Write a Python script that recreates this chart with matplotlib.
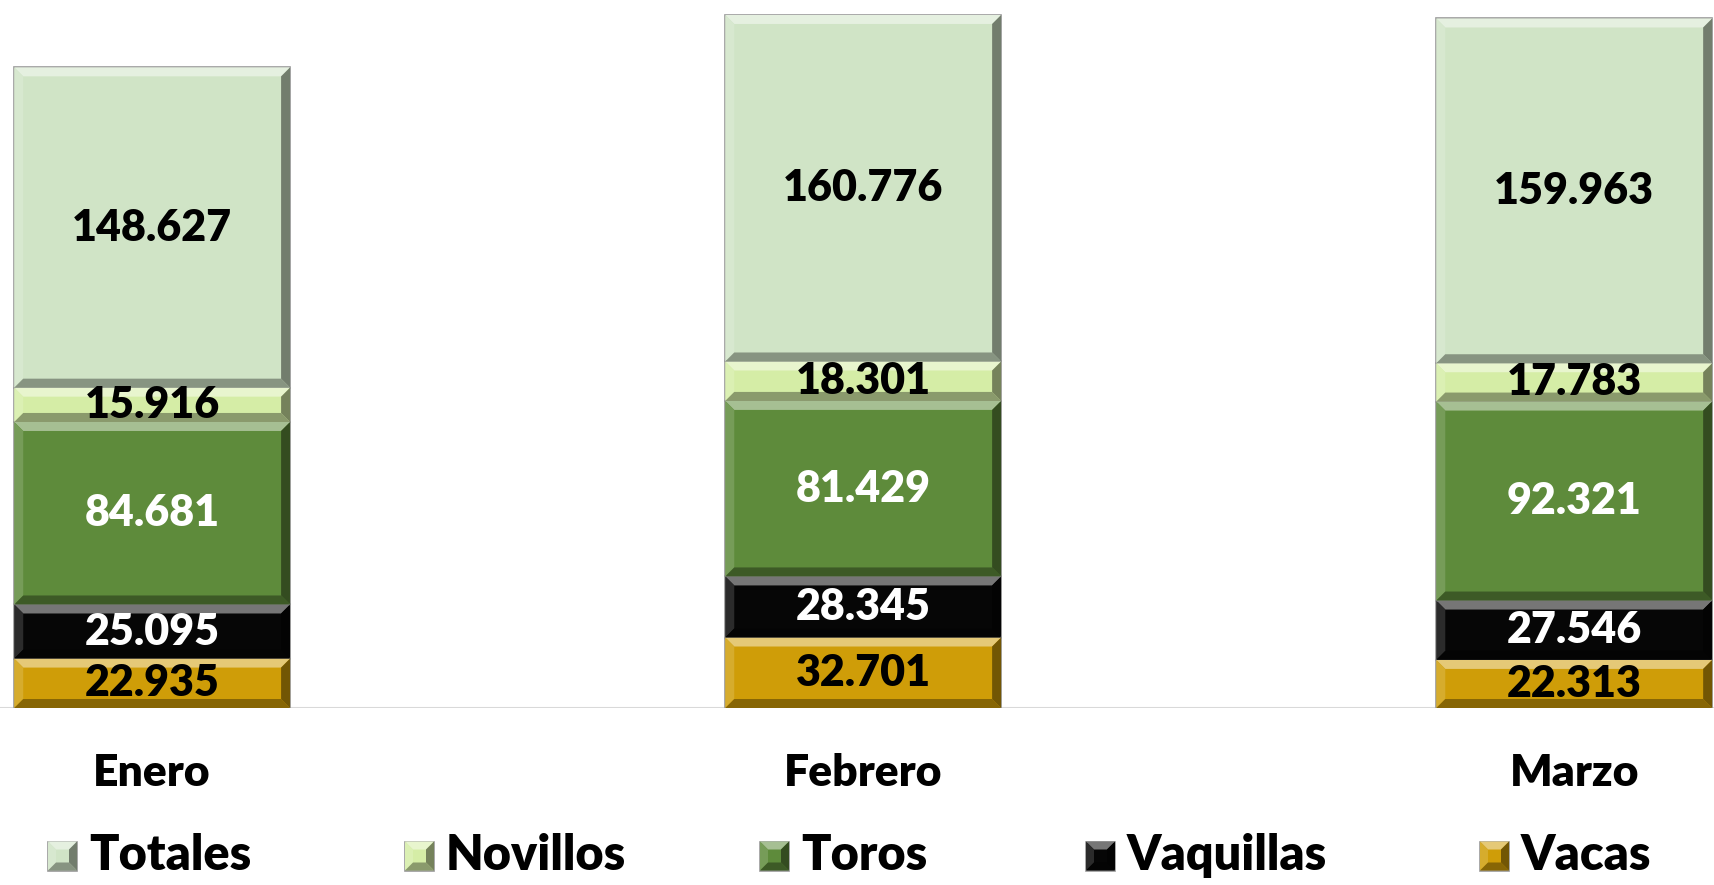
import matplotlib
matplotlib.use('Agg')
import matplotlib.pyplot as plt
from matplotlib.patches import Rectangle, Polygon
from matplotlib.colors import to_rgb

# data, stacked bottom to top
months = ['Enero', 'Febrero', 'Marzo']
series = ['Vacas', 'Vaquillas', 'Toros', 'Novillos', 'Totales']
vacas = [22935, 32701, 22313]
vaquillas = [25095, 28345, 27546]
toros = [84681, 81429, 92321]
novillos = [15916, 18301, 17783]
totales = [148627, 160776, 159963]

colors = {'Vacas': '#CF9D08', 'Vaquillas': '#060606', 'Toros': '#5E8B3B',
          'Novillos': '#D5EDA6', 'Totales': '#D0E4C6'}
text_colors = {'Vacas': 'black', 'Vaquillas': 'white', 'Toros': 'white',
               'Novillos': 'black', 'Totales': 'black'}

plt.rcParams['font.family'] = ['Lato', 'DejaVu Sans']
plt.rcParams['font.weight'] = 'bold'
W = 'heavy'


def shade(c, f):
    r, g, b = to_rgb(c)
    if f > 0:
        return (r + (1 - r) * f, g + (1 - g) * f, b + (1 - b) * f)
    return (r * (1 + f), g * (1 + f), b * (1 + f))


def bevel_box(target, x0, y0, w, h, color, bx, by, transform=None):
    add = target.add_patch if hasattr(target, 'add_patch') else target.add_artist
    kw = {}
    if transform is not None:
        kw['transform'] = transform
    x1, y1 = x0 + w, y0 + h
    add(Rectangle((x0, y0), w, h, facecolor=color, edgecolor='#9a9a9a',
                  linewidth=1.2, zorder=2, **kw))
    # top, left, bottom, right bevel faces
    faces = [
        ([(x0, y1), (x1, y1), (x1 - bx, y1 - by), (x0 + bx, y1 - by)], shade(color, 0.45)),
        ([(x0, y0), (x0 + bx, y0 + by), (x0 + bx, y1 - by), (x0, y1)], shade(color, 0.15)),
        ([(x0, y0), (x1, y0), (x1 - bx, y0 + by), (x0 + bx, y0 + by)], shade(color, -0.35)),
        ([(x1, y0), (x1, y1), (x1 - bx, y1 - by), (x1 - bx, y0 + by)], shade(color, -0.45)),
    ]
    for pts, c in faces:
        add(Polygon(pts, closed=True, facecolor=c, edgecolor='none', zorder=3, **kw))


fig = plt.figure(figsize=(17.15, 8.85), dpi=100)
ax = fig.add_axes([0, 0.2, 1, 0.8])
ax.set_xlim(-0.214, 2.198)
ax.set_ylim(0, 328500)
ax.axis('off')

fig.canvas.draw()
p0 = ax.transData.transform((0, 0))
p1 = ax.transData.transform((1, 100000))
bev = 9.0
bx = bev / (p1[0] - p0[0])
by = bev * 100000 / (p1[1] - p0[1])

width = 0.388
data = {'Vacas': vacas, 'Vaquillas': vaquillas, 'Toros': toros,
        'Novillos': novillos, 'Totales': totales}
bottom = [0, 0, 0]
for name in series:
    vals = data[name]
    for i, v in enumerate(vals):
        bevel_box(ax, i - width / 2, bottom[i], width, v, colors[name], bx, by)
        ax.text(i, bottom[i] + v / 2, f'{v:,}'.replace(',', '.'), ha='center',
                va='center', fontsize=31, fontweight=W,
                color=text_colors[name], zorder=5)
        bottom[i] += v

# baseline
ax.axhline(0, color='#D9D9D9', linewidth=1.5, zorder=1)

# month labels
for i, m in enumerate(months):
    ax.text(i, -0.092 * 328500, m, ha='center', va='center', fontsize=32,
            fontweight=W, color='black')

# legend drawn by hand
leg_order = ['Totales', 'Novillos', 'Toros', 'Vaquillas', 'Vacas']
leg_x = [48, 405, 760, 1086, 1480]
leg_y = 856
sq = 29
for name, lx in zip(leg_order, leg_x):
    bevel_box(fig, lx / 1715, 1 - (leg_y + sq / 2) / 885, sq / 1715, sq / 885,
              colors[name], 8 / 1715, 8 / 885, transform=fig.transFigure)
    fig.text((lx + sq + 12) / 1715, 1 - leg_y / 885, name, ha='left', va='center',
             fontsize=35, fontweight=W, color='black')

fig.savefig('out.png', dpi=100)
